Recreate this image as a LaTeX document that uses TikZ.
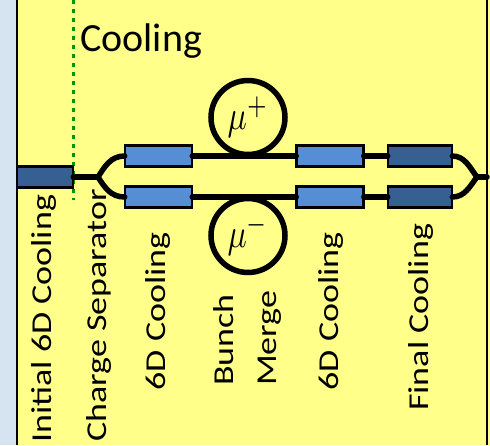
\documentclass[tikz,border=0pt]{standalone}
\usepackage{fontspec}
\setmainfont{Carlito}
\definecolor{panel}{RGB}{255,255,138}
\definecolor{sidebg}{RGB}{214,228,242}
\definecolor{lightblk}{RGB}{85,142,213}
\definecolor{darkblk}{RGB}{55,96,146}
\definecolor{sepgreen}{RGB}{0,150,0}
\begin{document}
\begin{tikzpicture}[x=1pt,y=-1pt,
  stage/.style={draw=black, line width=1.6pt, minimum height=20pt, inner sep=0pt},
  lightstage/.style={stage, fill=lightblk, minimum width=66pt},
  darkstage/.style={stage, fill=darkblk, minimum width=63pt},
  beam/.style={line width=5.5pt, line cap=round},
  ring/.style={circle, draw=black, line width=5.5pt, minimum size=74pt, inner sep=0pt},
  vlabel/.style={font=\fontsize{36}{36}\selectfont, rotate=90, yscale=0.8,
                 anchor=base west, inner sep=0pt}
]
\useasboundingbox (0,0) rectangle (490,445);

% backgrounds and panel borders
\fill[sidebg] (0,0) rectangle (17,445);
\fill[panel] (17,0) rectangle (490,445);
\draw[line width=2pt] (17,0) -- (17,445);
\draw[line width=2pt] (487,0) -- (487,445);

% separator between initial cooling and the charge-separated section
\draw[sepgreen, line width=3pt, dash pattern=on 4pt off 5pt] (73,0) -- (73,200);

\node[font=\fontsize{40}{40}\selectfont, anchor=base west, inner sep=0pt]
  (title) at (80,51) {Cooling};

% beam line elements
\node[darkstage, minimum width=55pt] (init) at (45,177) {};
\coordinate (split) at (98,177);
\node[lightstage] (a1) at (158.5,156) {};
\node[lightstage] (b1) at (158.5,197) {};
\node[lightstage] (a2) at (330,156) {};
\node[lightstage] (b2) at (330,197) {};
\node[darkstage] (a3) at (420,156) {};
\node[darkstage] (b3) at (420,197) {};
\coordinate (merge) at (477,177);
\coordinate (exit) at (487,177);

% bunch-merge rings
\node[ring] (mp) at (248,117.5) {\scalebox{3.2}[4.1]{$\mu^+$}};
\node[ring] (mm) at (248,235.5) {\scalebox{3.2}[4.1]{$\mu^-$}};

% beam connections
\draw[beam] (init.east) -- (split);
\draw[beam] (split) .. controls (105,166) and (111,156) .. (a1.west);
\draw[beam] (split) .. controls (105,188) and (111,197) .. (b1.west);
\draw[beam] (a1.east) -- (a2.west);
\draw[beam] (b1.east) -- (b2.west);
\draw[beam] (a2.east) -- (a3.west);
\draw[beam] (b2.east) -- (b3.west);
\draw[beam] (a3.east) .. controls (465,156) and (470,168) .. (merge);
\draw[beam] (b3.east) .. controls (465,197) and (470,186) .. (merge);
\draw[beam] (merge) -- (exit);

% box outlines drawn again above the line ends
\foreach \n in {init,a1,b1,a2,b2,a3,b3}{
  \draw[line width=1.6pt] (\n.south west) rectangle (\n.north east);
}

% stage labels
\node[vlabel] (l1) at (51.5,443) {Initial 6D Cooling};
\node[vlabel] (l2) at (106.5,442) {Charge Separator};
\node[vlabel] (l3) at (165.5,390.5) {6D Cooling};
\node[vlabel] (l4) at (233.5,386) {Bunch};
\node[vlabel] (l5) at (276.5,386) {Merge};
\node[vlabel] (l6) at (338.5,390.5) {6D Cooling};
\node[vlabel] (l7) at (428.5,411) {Final Cooling};
\end{tikzpicture}
\end{document}
